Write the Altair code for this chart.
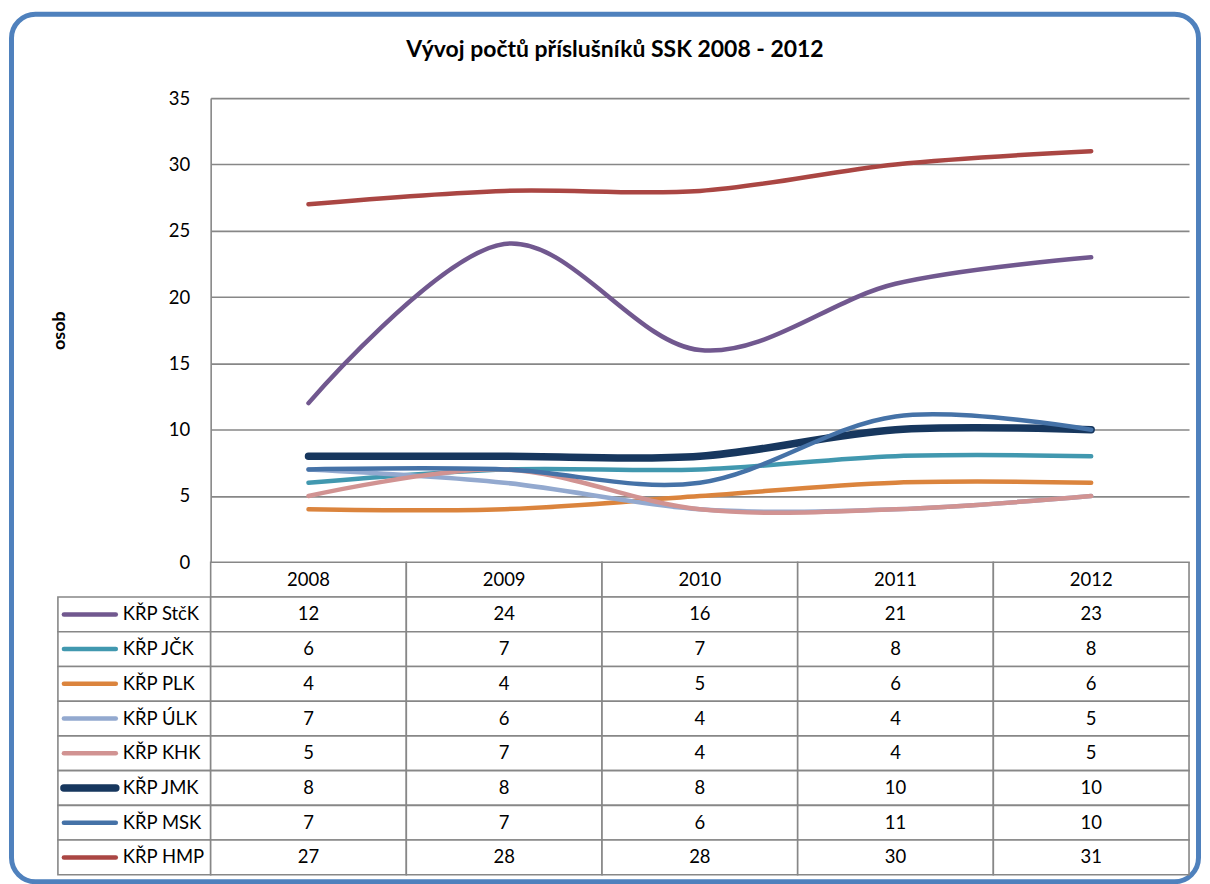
import altair as alt
import pandas as pd

# ---- data ----
years = ["2008", "2009", "2010", "2011", "2012"]
series = ["KŘP StčK", "KŘP JČK", "KŘP PLK", "KŘP ÚLK", "KŘP KHK", "KŘP JMK", "KŘP MSK", "KŘP HMP"]
stck = [12, 24, 16, 21, 23]
jck = [6, 7, 7, 8, 8]
plk = [4, 4, 5, 6, 6]
ulk = [7, 6, 4, 4, 5]
khk = [5, 7, 4, 4, 5]
jmk = [8, 8, 8, 10, 10]
msk = [7, 7, 6, 11, 10]
hmp = [27, 28, 28, 30, 31]
y_ticks = [0, 5, 10, 15, 20, 25, 30, 35]

title_text = "Vývoj počtů příslušníků SSK 2008 - 2012"
y_title = "osob"

# ---- styles ----
colors = ["#71588F", "#4198AF", "#DB843D", "#93A9CF", "#D19392", "#17375E", "#4572A7", "#AA4643"]
THICK_SERIES = "KŘP JMK"
W_THIN, W_THICK = 4.5, 7.5
FONT = "Lato"
FS = 18.5
GRID = "#878787"
PLOT_W, PLOT_H = 980, 465
LAB_W = 153
TABLE_H = 313
HDR = "hdr"

all_values = [stck, jck, plk, ulk, khk, jmk, msk, hmp]
rows = []
for s, vals in zip(series, all_values):
    for yr, v in zip(years, vals):
        rows.append({"series": s, "year": yr, "value": v, "row": s, "label": str(v)})
df = pd.DataFrame(rows)
hdr_df = pd.DataFrame({"year": years, "row": [HDR] * len(years), "label": years})
table_df = pd.concat([hdr_df, df[["year", "row", "label"]]], ignore_index=True)
lab_df = pd.DataFrame({"series": series, "row": series, "col": ["c"] * len(series)})

row_domain = [HDR] + series
color_scale = alt.Scale(domain=series, range=colors)

# ---- line chart ----
x_line = alt.X("year:N", scale=alt.Scale(type="point", padding=0.5, domain=years), axis=None)
y_line = alt.Y(
    "value:Q",
    scale=alt.Scale(domain=[0, 35]),
    axis=alt.Axis(
        values=y_ticks, title=y_title, grid=True, ticks=False, domain=True,
        domainColor=GRID, domainWidth=1.6, gridColor=GRID, gridWidth=1.6,
        labelFont=FONT, labelFontSize=FS, labelColor="black", labelPadding=21,
        titleFont=FONT, titleFontSize=18, titleFontWeight="bold", titleColor="black",
        titlePadding=100,
    ),
)

layers = []
for s in series:
    w = W_THICK if s == THICK_SERIES else W_THIN
    layers.append(
        alt.Chart(df)
        .transform_filter(alt.datum.series == s)
        .mark_line(interpolate="cardinal", strokeCap="round", strokeJoin="round", strokeWidth=w)
        .encode(
            x=x_line,
            y=y_line,
            color=alt.Color("series:N", scale=color_scale, legend=None),
        )
    )
lines = alt.layer(*layers).properties(
    width=PLOT_W,
    height=PLOT_H,
    title=alt.TitleParams(
        title_text, font=FONT, fontSize=23, fontWeight="bold", color="black",
        anchor="middle", frame="group", dx=-85, offset=27,
    ),
)

# ---- top-left cell: outer frame ----
frame = (
    alt.Chart(pd.DataFrame({"a": [0]}))
    .mark_rect(fill="white", fillOpacity=0, stroke="#4F81BD", strokeWidth=5, cornerRadius=24)
    .encode(x=alt.value(-46.5), x2=alt.value(1142.5), y=alt.value(-84), y2=alt.value(785))
    .properties(width=LAB_W, height=PLOT_H)
)

# ---- table: value cells ----
x_tab = alt.X("year:N", scale=alt.Scale(domain=years, paddingInner=0, paddingOuter=0), axis=None)
y_tab = alt.Y("row:N", scale=alt.Scale(domain=row_domain, paddingInner=0, paddingOuter=0), axis=None)
cells = alt.Chart(table_df).mark_rect(fill="white", stroke=GRID, strokeWidth=1.6).encode(x=x_tab, y=y_tab)
cell_text = alt.Chart(table_df).mark_text(font=FONT, fontSize=FS, color="black").encode(
    x=x_tab, y=y_tab, text="label:N"
)
table = alt.layer(cells, cell_text).properties(width=PLOT_W, height=TABLE_H)

# ---- table: label column with line swatches ----
x_lab = alt.X("col:N", scale=alt.Scale(paddingInner=0, paddingOuter=0), axis=None)
lab_cells = alt.Chart(lab_df).mark_rect(fill="white", stroke=GRID, strokeWidth=1.6).encode(x=x_lab, y=y_tab)
swatch = alt.Chart(lab_df).mark_rule(strokeCap="round").encode(
    x=alt.value(6), x2=alt.value(58), y=y_tab,
    color=alt.Color("series:N", scale=color_scale, legend=None),
    strokeWidth=alt.condition(alt.datum.series == THICK_SERIES, alt.value(W_THICK), alt.value(W_THIN)),
)
lab_text = alt.Chart(lab_df).mark_text(font=FONT, fontSize=FS, color="black", align="left").encode(
    x=alt.value(65), y=y_tab, text="series:N"
)
labels = alt.layer(lab_cells, swatch, lab_text).properties(width=LAB_W, height=TABLE_H)

chart = (
    alt.concat(frame, lines, labels, table, columns=2, spacing=0, bounds="flush", align="each")
    .properties(padding={"left": 0, "top": 2.5, "right": 0, "bottom": 0})
    .configure_view(stroke="transparent")
)

chart.save("out.html", embed_options={"renderer": "svg", "actions": False})
